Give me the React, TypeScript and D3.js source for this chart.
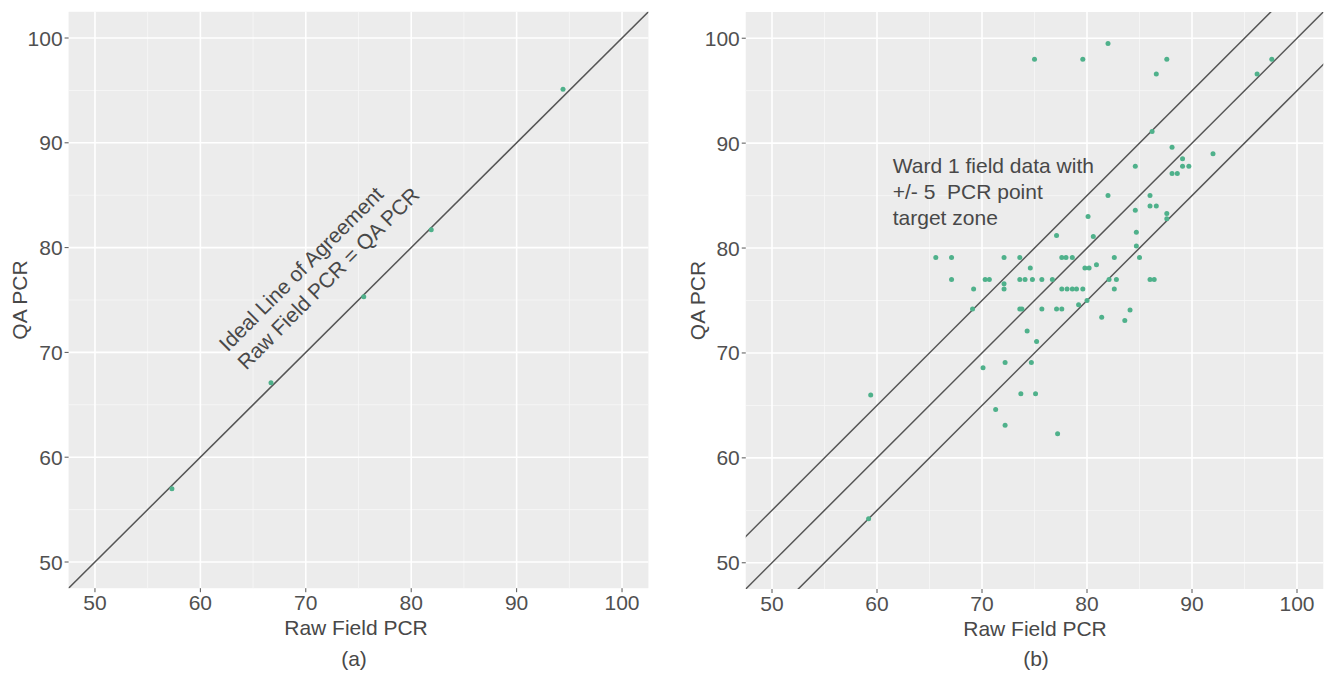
import React from "react";
import * as d3 from "d3";

// ---------- data ----------
const MAJOR_TICKS = [50, 60, 70, 80, 90, 100];
const MINOR_TICKS = [55, 65, 75, 85, 95];
const AXIS_DOMAIN: [number, number] = [47.5, 102.5];

// panel (a): raw field PCR vs QA PCR
const leftRaw = [57.3, 66.7, 75.5, 81.9, 94.4];
const leftQA = [57.0, 67.1, 75.3, 81.7, 95.1];

// panel (b): Ward 1 field data
const rightRaw = [
  75.0, 79.6, 82.0, 87.6, 86.6, 97.6, 96.2, 86.2, 88.1, 92.0,
  89.1, 89.1, 89.7, 88.1, 88.6, 84.6, 82.0, 86.0, 86.0, 86.6,
  84.6, 80.1, 87.6, 87.6, 77.1, 80.6, 84.7, 84.7, 65.6, 67.1,
  72.1, 73.6, 77.6, 78.0, 78.6, 79.8, 80.2, 80.9, 82.6, 85.0,
  74.6, 67.1, 70.3, 70.7, 72.1, 72.1, 73.6, 74.1, 74.8, 75.7,
  76.7, 82.1, 82.8, 86.0, 86.4, 69.2, 77.6, 78.1, 78.6, 79.0,
  79.6, 82.6, 69.1, 73.6, 73.8, 75.7, 77.1, 77.6, 79.2, 80.0,
  81.4, 83.6, 84.1, 74.3, 75.2, 70.1, 72.2, 74.7, 73.7, 75.1,
  71.3, 72.2, 77.2, 59.4, 59.2,
];
const rightQA = [
  98.0, 98.0, 99.5, 98.0, 96.6, 98.0, 96.6, 91.1, 89.6, 89.0,
  88.5, 87.8, 87.8, 87.1, 87.1, 87.8, 85.0, 85.0, 84.0, 84.0,
  83.6, 83.0, 83.3, 82.8, 81.2, 81.1, 81.5, 80.2, 79.1, 79.1,
  79.1, 79.1, 79.1, 79.1, 79.1, 78.1, 78.1, 78.4, 79.1, 79.1,
  78.1, 77.0, 77.0, 77.0, 76.6, 76.1, 77.0, 77.0, 77.0, 77.0,
  77.0, 77.0, 77.0, 77.0, 77.0, 76.1, 76.1, 76.1, 76.1, 76.1,
  76.1, 76.1, 74.2, 74.2, 74.2, 74.2, 74.2, 74.2, 74.6, 75.0,
  73.4, 73.1, 74.1, 72.1, 71.1, 68.6, 69.1, 69.1, 66.1, 66.1,
  64.6, 63.1, 62.3, 66.0, 54.2,
];

const leftLineOffsets = [0];
const rightLineOffsets = [5, 0, -5];

const X_TITLE = "Raw Field PCR";
const Y_TITLE = "QA PCR";
const leftNote = ["Ideal Line of Agreement", "Raw Field PCR = QA PCR"];
const rightNote = ["Ward 1 field data with", "+/- 5  PCR point", "target zone"];

// ---------- styling ----------
const FONT = "'Liberation Sans', Arial, Helvetica, sans-serif";
const PANEL_BG = "#ececec";
const TICK_TEXT = "#505050";
const TITLE_TEXT = "#484848";
const POINT = "#4fb18b";
const LINE = "#555555";

type PanelProps = {
  id: string;
  xRange: [number, number];
  yRange: [number, number];
  xs: number[];
  ys: number[];
  offsets: number[];
  caption: string;
  yTitleX: number;
  titleX: number;
  captionX: number;
  children?: (x: d3.ScaleLinear<number, number>, y: d3.ScaleLinear<number, number>) => React.ReactNode;
};

function Panel(p: PanelProps) {
  const x = d3.scaleLinear().domain(AXIS_DOMAIN).range(p.xRange);
  const y = d3.scaleLinear().domain(AXIS_DOMAIN).range(p.yRange);
  const [x0, x1] = p.xRange;
  const [yb, yt] = p.yRange;
  const clipId = `clip-${p.id}`;
  const line = d3
    .line<[number, number]>()
    .x((d) => x(d[0]))
    .y((d) => y(d[1]));
  const midY = (yb + yt) / 2;
  return (
    <g>
      <defs>
        <clipPath id={clipId}>
          <rect x={x0} y={yt} width={x1 - x0} height={yb - yt} />
        </clipPath>
      </defs>
      <rect x={x0} y={yt} width={x1 - x0} height={yb - yt} fill={PANEL_BG} />
      {MINOR_TICKS.map((t) => (
        <g key={`mn${t}`}>
          <line x1={x(t)} x2={x(t)} y1={yt} y2={yb} stroke="#f8f8f8" strokeWidth={0.8} />
          <line x1={x0} x2={x1} y1={y(t)} y2={y(t)} stroke="#f8f8f8" strokeWidth={0.8} />
        </g>
      ))}
      {MAJOR_TICKS.map((t) => (
        <g key={`mj${t}`}>
          <line x1={x(t)} x2={x(t)} y1={yt} y2={yb} stroke="#ffffff" strokeWidth={1.6} />
          <line x1={x0} x2={x1} y1={y(t)} y2={y(t)} stroke="#ffffff" strokeWidth={1.6} />
        </g>
      ))}
      <g clipPath={`url(#${clipId})`}>
        {p.offsets.map((o) => (
          <path
            key={`l${o}`}
            d={line([
              [AXIS_DOMAIN[0] - 10, AXIS_DOMAIN[0] - 10 + o],
              [AXIS_DOMAIN[1] + 10, AXIS_DOMAIN[1] + 10 + o],
            ]) || ""}
            fill="none"
            stroke={LINE}
            strokeWidth={1.5}
          />
        ))}
        {p.xs.map((v, i) => (
          <circle key={`p${i}`} cx={x(v)} cy={y(p.ys[i])} r={2.5} fill={POINT} />
        ))}
      </g>
      {MAJOR_TICKS.map((t) => (
        <g key={`xt${t}`}>
          <line x1={x(t)} x2={x(t)} y1={yb} y2={yb + 4} stroke="#555" strokeWidth={1} />
          <text x={x(t)} y={yb + 22} textAnchor="middle" fontSize={21} fill={TICK_TEXT} fontFamily={FONT}>
            {t}
          </text>
          <line x1={x0 - 4} x2={x0} y1={y(t)} y2={y(t)} stroke="#555" strokeWidth={1} />
          <text x={x0 - 6} y={y(t) + 7.5} textAnchor="end" fontSize={21} fill={TICK_TEXT} fontFamily={FONT}>
            {t}
          </text>
        </g>
      ))}
      <text x={p.titleX} y={yb + 47} textAnchor="middle" fontSize={21} fill={TITLE_TEXT} fontFamily={FONT}>
        {X_TITLE}
      </text>
      <text
        transform={`translate(${p.yTitleX},${midY}) rotate(-90)`}
        textAnchor="middle"
        fontSize={21}
        fill={TITLE_TEXT}
        fontFamily={FONT}
      >
        {Y_TITLE}
      </text>
      <text x={p.captionX} y={666} textAnchor="middle" fontSize={21} fill={TITLE_TEXT} fontFamily={FONT}>
        {p.caption}
      </text>
      {p.children ? p.children(x, y) : null}
    </g>
  );
}

export default function App() {
  return (
    <svg
      width={1334}
      height={682}
      viewBox="0 0 1334 682"
      style={{ position: "absolute", left: 0, top: 0, background: "#ffffff" }}
    >
      <rect x={0} y={0} width={1334} height={682} fill="#ffffff" />
      <Panel
        id="a"
        xRange={[68.6, 648.4]}
        yRange={[588.2, 11.8]}
        xs={leftRaw}
        ys={leftQA}
        offsets={leftLineOffsets}
        caption="(a)"
        yTitleX={27}
        titleX={356}
        captionX={354}
      >
        {(x, y) => (
          <text
            transform={`translate(${x(62.6)},${y(70.0)}) rotate(-45)`}
            fontSize={21}
            fill={TITLE_TEXT}
            fontFamily={FONT}
          >
            {leftNote.map((s, i) => (
              <tspan key={i} x={0} y={i * 26}>
                {s}
              </tspan>
            ))}
          </text>
        )}
      </Panel>
      <Panel
        id="b"
        xRange={[745.75, 1323.25]}
        yRange={[589, 12]}
        xs={rightRaw}
        ys={rightQA}
        offsets={rightLineOffsets}
        caption="(b)"
        yTitleX={705}
        titleX={1035}
        captionX={1036}
      >
        {(x, y) => (
          <text fontSize={21} fill={TITLE_TEXT} fontFamily={FONT}>
            {rightNote.map((s, i) => (
              <tspan key={i} x={x(61.5)} y={y(87.2) + i * 26} style={{ whiteSpace: "pre" }}>
                {s}
              </tspan>
            ))}
          </text>
        )}
      </Panel>
    </svg>
  );
}
